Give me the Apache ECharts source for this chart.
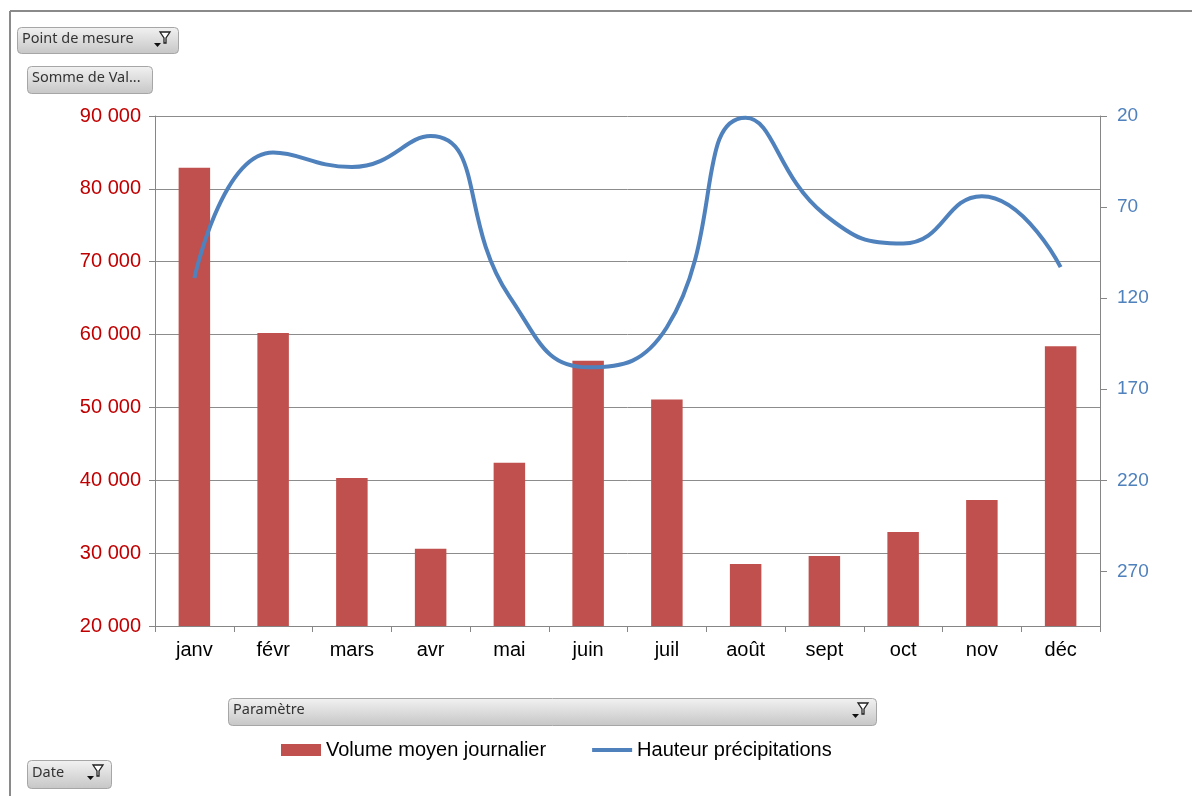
<!DOCTYPE html>
<html>
<head>
<meta charset="utf-8">
<script src="https://cdn.jsdelivr.net/npm/echarts@6/dist/echarts.min.js"></script>
<style>
html,body{margin:0;padding:0;background:#fff;}
#c{width:1192px;height:796px;}
</style>
</head>
<body>
<div id="c"></div>
<script>
const months = ['janv','févr','mars','avr','mai','juin','juil','août','sept','oct','nov','déc'];
const volume = [82900, 60200, 40300, 30600, 42400, 56400, 51100, 28500, 29600, 32900, 37300, 58400];
const precip = [109, 40, 48, 31, 119, 158, 136, 21, 74, 90, 64, 103];
const leftTicks = {min: 20000, max: 90000, interval: 10000};
const rightTicks = {min: 20, max: 300, interval: 50};

function fmtThousands(v){
  return String(v).replace(/\B(?=(\d{3})+(?!\d))/g, ' ');
}

const btnFill = new echarts.graphic.LinearGradient(0,0,0,1,[
  {offset:0,color:'#f2f2f2'},{offset:1,color:'#c6c6c6'}
]);
function button(x, y, w, h, label, filter){
  const els = [{
    type:'rect', left:x, top:y,
    shape:{width:w, height:h, r:4},
    style:{fill:btnFill, stroke:'#a6a6a6', lineWidth:1}
  },{
    type:'text', left:x+5, top:y+h/2-9,
    style:{text:label, font:'14.5px "Noto Sans"', fill:'#333'}
  }];
  if(filter){
    const fx = x + w - 24, fy = y + 5;
    els.push({
      type:'polygon',
      shape:{points:[[fx+6,fy],[fx+16,fy],[fx+12,fy+6],[fx+12,fy+11],[fx+10,fy+11],[fx+10,fy+6]]},
      style:{fill:'#fff', stroke:'#222', lineWidth:1.3}
    });
    els.push({
      type:'polygon',
      shape:{points:[[fx,fy+11],[fx+7,fy+11],[fx+3.5,fy+15]]},
      style:{fill:'#111'}
    });
  }
  return els;
}

const graphics = [].concat(
  [{type:'line', shape:{x1:10,y1:11,x2:1192,y2:11}, style:{stroke:'#8a8a8a', lineWidth:2}},
   {type:'line', shape:{x1:10,y1:11,x2:10,y2:796}, style:{stroke:'#8a8a8a', lineWidth:2}}],
  button(17, 27, 161, 26, 'Point de mesure', true),
  button(27, 66, 125, 27, 'Somme de Val...', false),
  button(228, 698, 648, 27, 'Paramètre', true),
  button(27, 760, 84, 28, 'Date', true)
);

const FONT = '"Liberation Sans", Arial, sans-serif';
const chart = echarts.init(document.getElementById('c'));
chart.setOption({
  animation:false,
  backgroundColor:'#fff',
  textStyle:{fontFamily:FONT},
  grid:{left:155, right:92, top:116, bottom:170, containLabel:false},
  legend:{
    left:276, top:735, itemWidth:40, itemHeight:12, itemGap:46,
    textStyle:{fontSize:20, color:'#000', fontFamily:FONT},
    data:[
      {name:'Volume moyen journalier', icon:'rect'},
      {name:'Hauteur précipitations', icon:'path://M0,0 L40,0 L40,4 L0,4 Z'}
    ]
  },
  graphic:graphics,
  xAxis:{
    type:'category', data:months,
    axisLine:{lineStyle:{color:'#868686'}},
    axisTick:{show:true, length:6, lineStyle:{color:'#868686'}},
    axisLabel:{fontSize:20, color:'#000', margin:14}
  },
  yAxis:[{
    type:'value', min:leftTicks.min, max:leftTicks.max, interval:leftTicks.interval,
    axisLine:{show:true, lineStyle:{color:'#868686'}},
    axisTick:{show:true, length:6, lineStyle:{color:'#868686'}},
    splitLine:{show:true, lineStyle:{color:'#8c8c8c', width:1}},
    axisLabel:{fontSize:20, color:'#C00000', margin:14, formatter:fmtThousands}
  },{
    type:'value', inverse:true, min:rightTicks.min, max:rightTicks.max, interval:rightTicks.interval,
    axisLine:{show:true, lineStyle:{color:'#868686'}},
    axisTick:{show:true, length:7, lineStyle:{color:'#868686'}},
    splitLine:{show:false},
    axisLabel:{fontSize:19, color:'#4F81BD', margin:17, showMaxLabel:false}
  }],
  series:[{
    name:'Volume moyen journalier', type:'bar', data:volume, yAxisIndex:0,
    barWidth:'40%', itemStyle:{color:'#C0504D'}
  },{
    name:'Hauteur précipitations', type:'line', data:precip, yAxisIndex:1,
    smooth:0.5, symbol:'none', lineStyle:{color:'#4F81BD', width:4},
    itemStyle:{color:'#4F81BD'}
  }]
});
</script>
</body>
</html>
